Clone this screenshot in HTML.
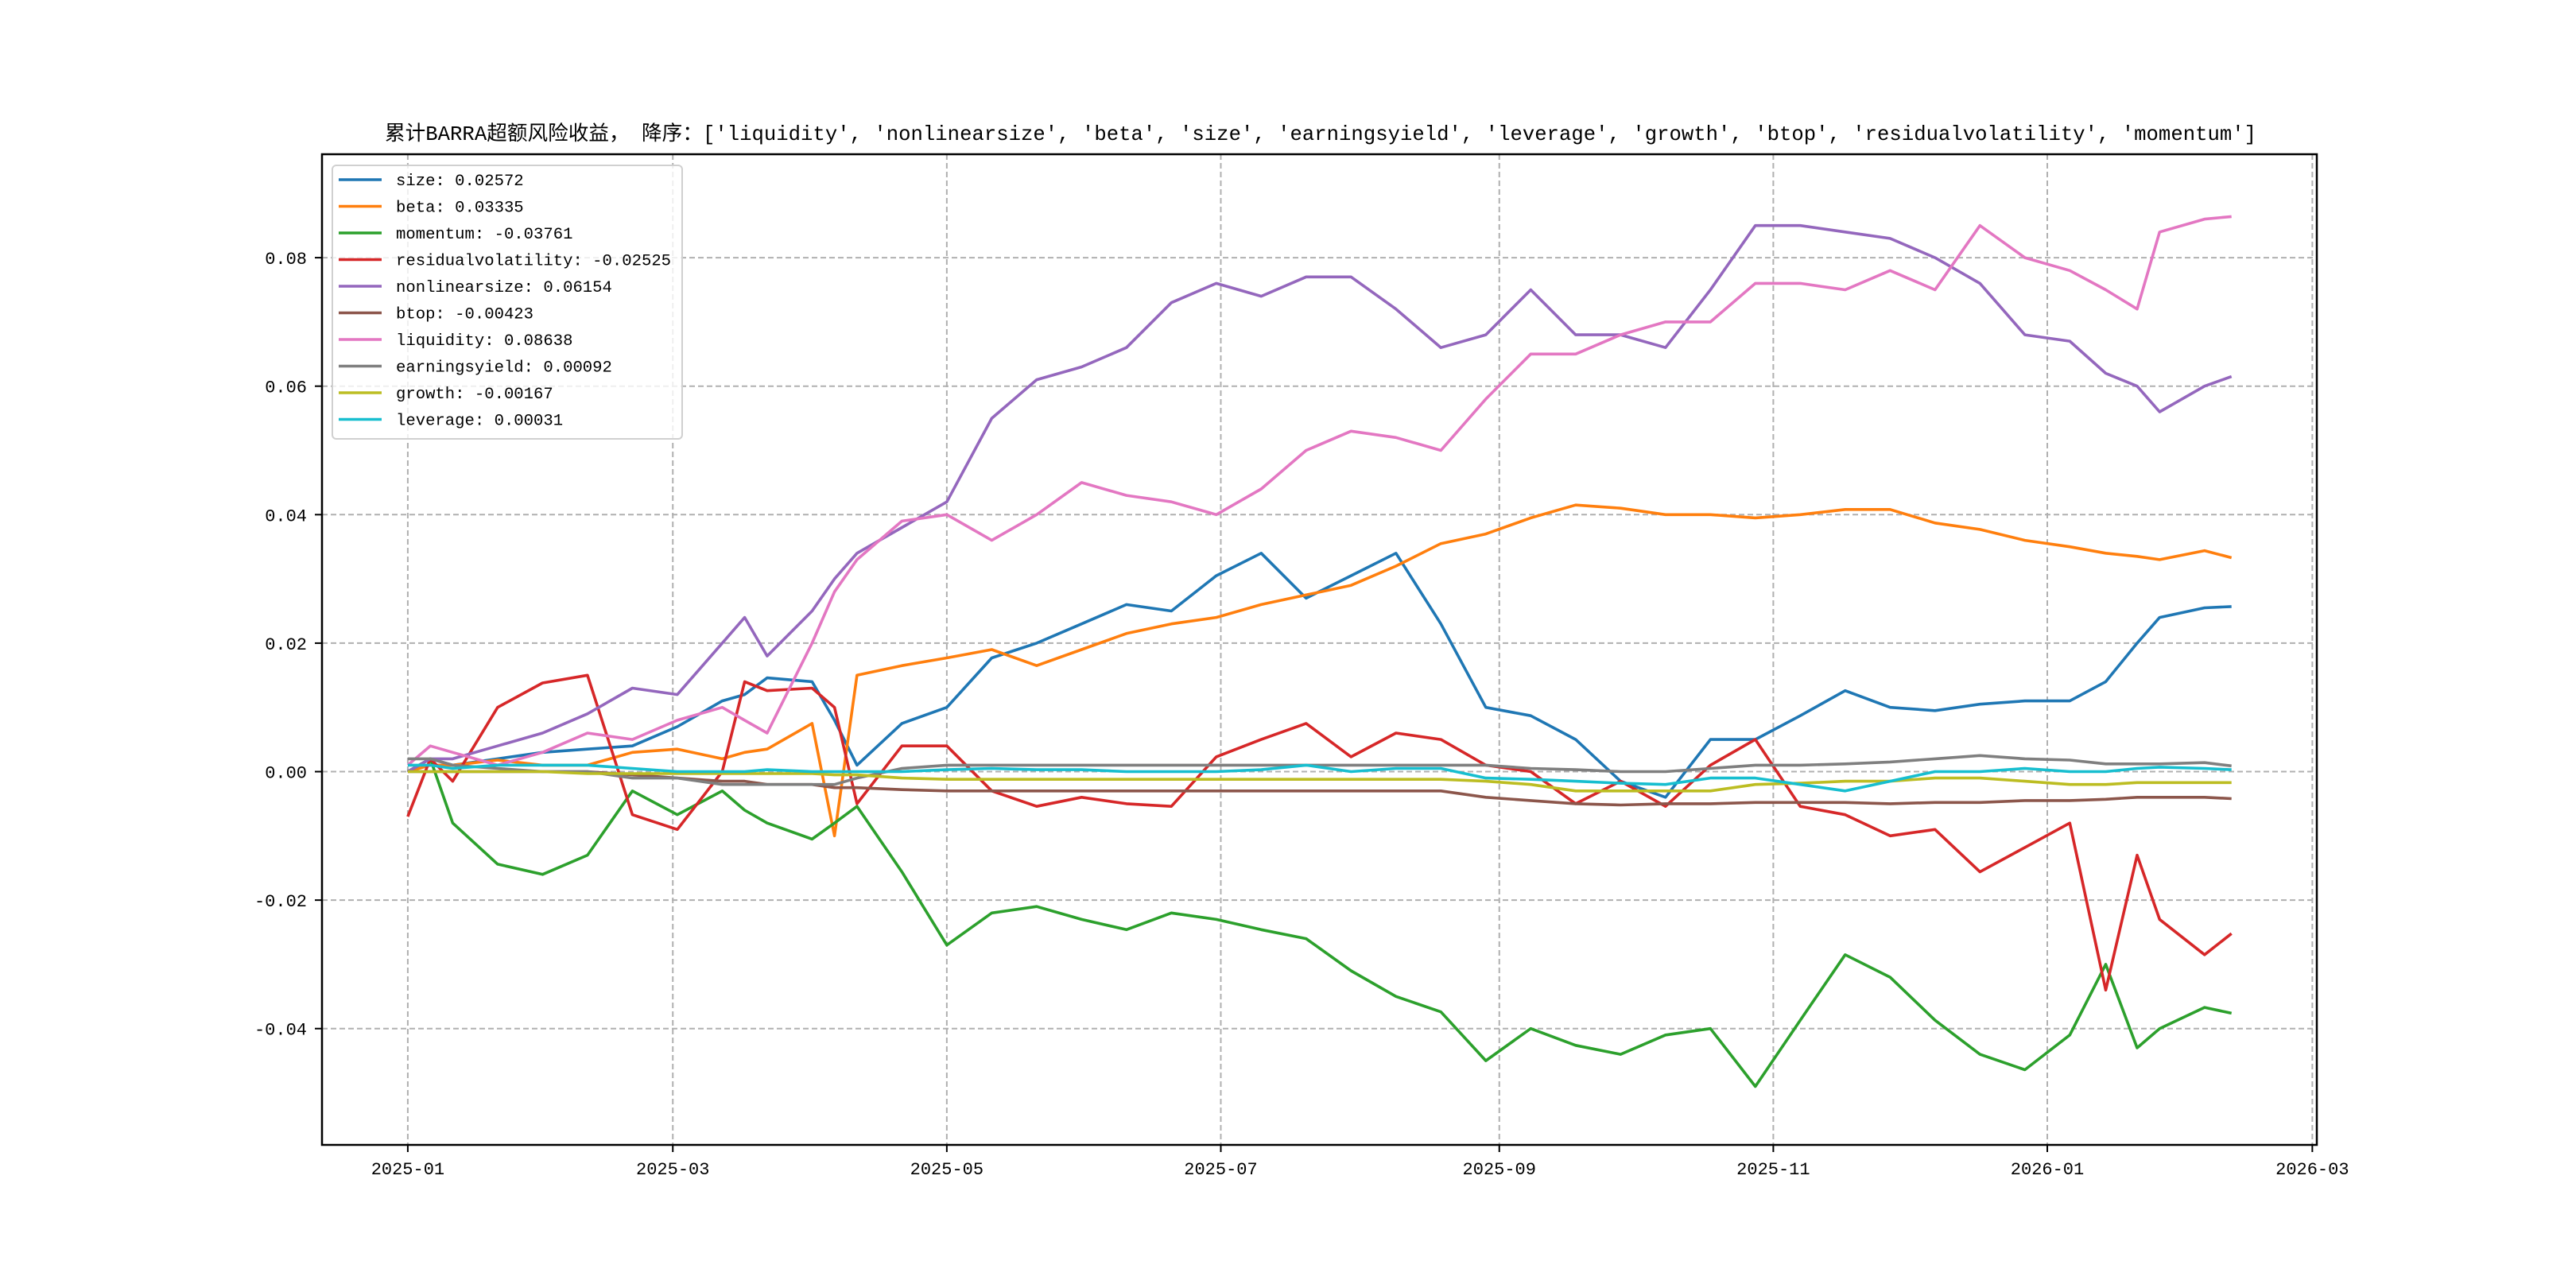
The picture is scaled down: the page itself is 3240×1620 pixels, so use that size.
<!DOCTYPE html>
<html><head><meta charset="utf-8">
<style>
html,body{margin:0;padding:0;background:#fff;}
svg{display:block;}
text{font-family:"Liberation Mono","Noto Sans CJK SC",monospace;fill:#000;}
</style></head>
<body>
<svg id="chart" width="3240" height="1620" viewBox="0 0 3240 1620" xmlns="http://www.w3.org/2000/svg">
<rect x="0" y="0" width="3240" height="1620" fill="#fff"/>
<text x="484" y="176" font-size="25.6" textLength="2354" lengthAdjust="spacing">累计BARRA超额风险收益， 降序：['liquidity', 'nonlinearsize', 'beta', 'size', 'earningsyield', 'leverage', 'growth', 'btop', 'residualvolatility', 'momentum']</text>
<g id="grid"></g>
<g id="series"></g>
<rect x="405" y="194" width="2509" height="1246" fill="none" stroke="#000" stroke-width="2.5"/>
<g id="ticks"></g>
<g id="legend"></g>
</svg>
<script>
const days = [0,5,10,20,30,40,50,60,70,75,80,90,95,100,110,120,130,140,150,160,170,180,190,200,210,220,230,240,250,260,270,280,290,300,310,320,330,340,350,360,370,378,385,390,400,406];
const sizeVals = [0,0.002,0.001,0.002,0.003,0.0035,0.004,0.007,0.011,0.012,0.0146,0.014,0.008,0.001,0.0075,0.010,0.0177,0.020,0.023,0.026,0.025,0.0305,0.034,0.027,0.0305,0.034,0.023,0.010,0.0087,0.005,-0.0015,-0.004,0.005,0.005,0.0087,0.0126,0.010,0.0095,0.0105,0.011,0.011,0.014,0.020,0.024,0.0255,0.0257];
const betaVals = [0,0.001,0.001,0.0018,0.001,0.001,0.003,0.0035,0.002,0.003,0.0035,0.0075,-0.010,0.015,0.0165,0.0177,0.019,0.0165,0.019,0.0215,0.023,0.024,0.026,0.0275,0.029,0.032,0.0355,0.037,0.0395,0.0415,0.041,0.040,0.040,0.0395,0.040,0.0408,0.0408,0.0387,0.0377,0.036,0.035,0.034,0.0335,0.033,0.0344,0.0333];
const momentumVals = [0,0.002,-0.008,-0.0144,-0.016,-0.013,-0.003,-0.0067,-0.003,-0.006,-0.008,-0.0105,-0.008,-0.0054,-0.0156,-0.027,-0.022,-0.021,-0.023,-0.0246,-0.022,-0.023,-0.0246,-0.026,-0.031,-0.035,-0.0374,-0.045,-0.040,-0.0426,-0.044,-0.041,-0.040,-0.049,-0.0387,-0.0285,-0.032,-0.0387,-0.044,-0.0464,-0.041,-0.030,-0.043,-0.040,-0.0367,-0.0376];
const resvolVals = [-0.007,0.002,-0.0015,0.010,0.0138,0.015,-0.0067,-0.009,0,0.014,0.0126,0.013,0.010,-0.005,0.004,0.004,-0.003,-0.0054,-0.004,-0.005,-0.0054,0.0023,0.005,0.0075,0.0023,0.006,0.005,0.001,0,-0.005,-0.0015,-0.0054,0.001,0.005,-0.0054,-0.0067,-0.010,-0.009,-0.0156,-0.0118,-0.008,-0.034,-0.013,-0.023,-0.0285,-0.0252];
const nonlinVals = [0,0.002,0.002,0.004,0.006,0.009,0.013,0.012,0.020,0.024,0.018,0.025,0.030,0.034,0.038,0.042,0.055,0.061,0.063,0.066,0.073,0.076,0.074,0.077,0.077,0.072,0.066,0.068,0.075,0.068,0.068,0.066,0.075,0.085,0.085,0.084,0.083,0.080,0.076,0.068,0.067,0.062,0.060,0.056,0.060,0.0615];
const btopVals = [0,0,0,0,0,0,-0.0005,-0.001,-0.0015,-0.0015,-0.002,-0.002,-0.0025,-0.0025,-0.0028,-0.003,-0.003,-0.003,-0.003,-0.003,-0.003,-0.003,-0.003,-0.003,-0.003,-0.003,-0.003,-0.004,-0.0045,-0.005,-0.0052,-0.005,-0.005,-0.0048,-0.0048,-0.0048,-0.005,-0.0048,-0.0048,-0.0045,-0.0045,-0.0043,-0.004,-0.004,-0.004,-0.0042];
const liqVals = [0.001,0.004,0.003,0.001,0.003,0.006,0.005,0.008,0.010,0.008,0.006,0.020,0.028,0.033,0.039,0.040,0.036,0.040,0.045,0.043,0.042,0.040,0.044,0.050,0.053,0.052,0.050,0.058,0.065,0.065,0.068,0.070,0.070,0.076,0.076,0.075,0.078,0.075,0.085,0.080,0.078,0.075,0.072,0.084,0.086,0.0864];
const eyVals = [0.002,0.002,0.001,0.0005,0,0,-0.001,-0.001,-0.002,-0.002,-0.002,-0.002,-0.002,-0.001,0.0005,0.001,0.001,0.001,0.001,0.001,0.001,0.001,0.001,0.001,0.001,0.001,0.001,0.001,0.0005,0.0003,0,0,0.0005,0.001,0.001,0.0012,0.0015,0.002,0.0025,0.002,0.0018,0.0012,0.0012,0.0012,0.0014,0.0009];
const growthVals = [0,0,0,0,0,-0.0003,-0.0003,-0.0003,-0.0003,-0.0003,-0.0003,-0.0003,-0.0005,-0.0005,-0.001,-0.0012,-0.0012,-0.0012,-0.0012,-0.0012,-0.0012,-0.0012,-0.0012,-0.0012,-0.0012,-0.0012,-0.0012,-0.0015,-0.002,-0.003,-0.003,-0.003,-0.003,-0.002,-0.0018,-0.0015,-0.0015,-0.001,-0.001,-0.0015,-0.002,-0.002,-0.0017,-0.0017,-0.0017,-0.0017];
const levVals = [0.001,0.001,0.0005,0.001,0.001,0.001,0.0005,0,0,0,0.0003,0,0,0,0,0.0003,0.0005,0.0003,0.0003,0,0,0,0.0003,0.001,0,0.0005,0.0005,-0.001,-0.0012,-0.0015,-0.0018,-0.002,-0.001,-0.001,-0.002,-0.003,-0.0015,0,0,0.0005,0,0,0.0005,0.0007,0.0005,0.0003];
const seriesNames = ["size","beta","momentum","residualvolatility","nonlinearsize","btop","liquidity","earningsyield","growth","leverage"];
const legendValues = ["0.02572","0.03335","-0.03761","-0.02525","0.06154","-0.00423","0.08638","0.00092","-0.00167","0.00031"];
const yTicks = [-0.04,-0.02,0.00,0.02,0.04,0.06,0.08];
const yTickLabels = ["-0.04","-0.02","0.00","0.02","0.04","0.06","0.08"];
const xTickDays = [0,59,120,181,243,304,365,424];
const xTickLabels = ["2025-01","2025-03","2025-05","2025-07","2025-09","2025-11","2026-01","2026-03"];

const colors = ["#1f77b4","#ff7f0e","#2ca02c","#d62728","#9467bd","#8c564b","#e377c2","#7f7f7f","#bcbd22","#17becf"];
const allSeries = [sizeVals,betaVals,momentumVals,resvolVals,nonlinVals,btopVals,liqVals,eyVals,growthVals,levVals];
const L=405,R=2914,T=194,B=1440;
const xMin=-19.1,xMax=425.0,yMin=-0.0581,yMax=0.0961;
function xs(d){return L+(d-xMin)/(xMax-xMin)*(R-L);}
function ys(v){return B-(v-yMin)/(yMax-yMin)*(B-T);}
const NS="http://www.w3.org/2000/svg";
function mk(tag,attrs,parent){const e=document.createElementNS(NS,tag);for(const k in attrs)e.setAttribute(k,attrs[k]);parent.appendChild(e);return e;}
const grid=document.getElementById('grid'),ticks=document.getElementById('ticks'),sg=document.getElementById('series'),lg=document.getElementById('legend');
yTicks.forEach((v,i)=>{
  const y=ys(v);
  const g=mk('line',{x1:L,x2:R,y1:y,y2:y,stroke:'#b0b0b0','stroke-width':2,'stroke-dasharray':'7,4'},grid);
  
  
  const t=mk('line',{x1:L-9,x2:L,y1:y,y2:y,stroke:'#000','stroke-width':2},ticks);
  
  
  const tx=mk('text',{x:L-19,y:y+8,'text-anchor':'end','font-size':22},ticks);
  tx.textContent=yTickLabels[i];
  
  
});
xTickDays.forEach((d,i)=>{
  const x=xs(d);
  const g=mk('line',{x1:x,x2:x,y1:T,y2:B,stroke:'#b0b0b0','stroke-width':2,'stroke-dasharray':'7,4'},grid);
  
  
  const t=mk('line',{x1:x,x2:x,y1:B,y2:B+9,stroke:'#000','stroke-width':2},ticks);
  
  
  const tx=mk('text',{x:x,y:B+37,'text-anchor':'middle','font-size':22},ticks);
  tx.textContent=xTickLabels[i];
  
  
});
allSeries.forEach((vals,si)=>{
  const pts=vals.map((v,i)=>xs(days[i]).toFixed(1)+','+ys(v).toFixed(1)).join(' ');
  const p=mk('polyline',{points:pts,fill:'none',stroke:colors[si],'stroke-width':3.6,'stroke-linejoin':'round'},sg);
  
  
});
const lb=mk('rect',{x:418,y:208,width:440,height:344,rx:5,fill:'#fff','fill-opacity':0.8,stroke:'#d0d0d0','stroke-width':2},lg);


seriesNames.forEach((n,i)=>{
  const y=226+i*33.5;
  const l=mk('line',{x1:426,x2:480,y1:y,y2:y,stroke:colors[i],'stroke-width':3.6},lg);
  
  
  const t=mk('text',{x:498,y:y+7,'font-size':20.6},lg);
  t.textContent=n+': '+legendValues[i];
  
  
});
</script>
</body></html>
